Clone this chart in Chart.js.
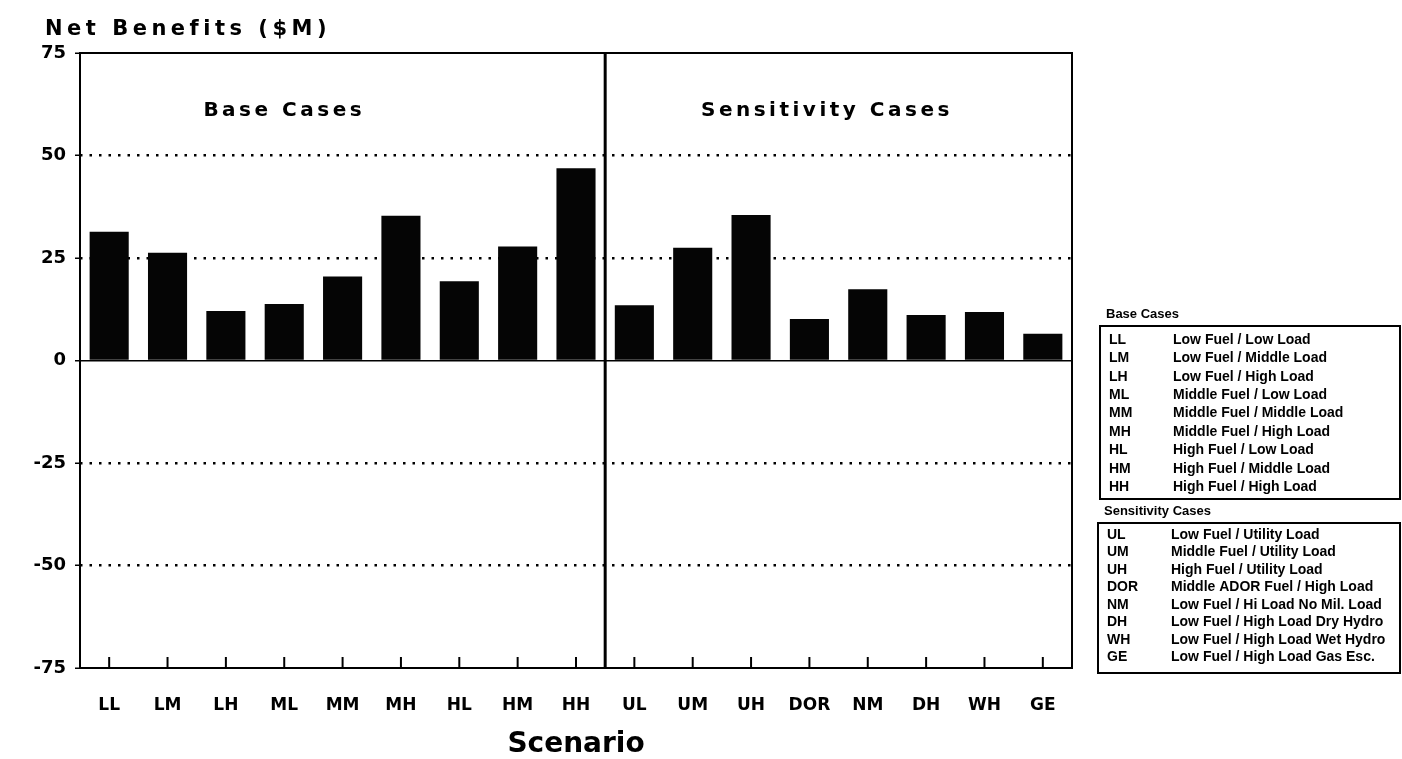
<!DOCTYPE html>
<html>
<head>
<meta charset="utf-8">
<script src="https://cdn.jsdelivr.net/npm/chart.js@4"></script>
<style>
  html, body { margin: 0; padding: 0; background: #fff; }
  #wrap { width: 1402px; height: 759px; }
</style>
</head>
<body>
<div id="wrap"><canvas id="benefitsChart" width="1402" height="759"></canvas></div>
<script>
// Net Benefits ($M) por cenário

const SCENARIOS = ['LL', 'LM', 'LH', 'ML', 'MM', 'MH', 'HL', 'HM', 'HH',
                   'UL', 'UM', 'UH', 'DOR', 'NM', 'DH', 'WH', 'GE'];
const NET_BENEFITS = [31.4, 26.3, 12.1, 13.8, 20.5, 35.3, 19.3, 27.8, 46.9,
                      13.5, 27.5, 35.5, 10.1, 17.4, 11.1, 11.8, 6.5];
const Y_TICKS = [75, 50, 25, 0, -25, -50, -75];

const BASE_CODES = SCENARIOS.slice(0, 9);
const BASE_DESCS = [
    'Low Fuel / Low Load', 'Low Fuel / Middle Load', 'Low Fuel / High Load',
    'Middle Fuel / Low Load', 'Middle Fuel / Middle Load', 'Middle Fuel / High Load',
    'High Fuel / Low Load', 'High Fuel / Middle Load', 'High Fuel / High Load'
];
const SENS_CODES = SCENARIOS.slice(9);
const SENS_DESCS = [
    'Low Fuel / Utility Load', 'Middle Fuel / Utility Load', 'High Fuel / Utility Load',
    'Middle ADOR Fuel / High Load', 'Low Fuel / Hi Load No Mil. Load',
    'Low Fuel / High Load Dry Hydro', 'Low Fuel / High Load Wet Hydro',
    'Low Fuel / High Load Gas Esc.'
];

function drawLegendBlock(ctx, heading, codes, descs, box) {
    ctx.font = 'bold 13px "Liberation Sans"';
    ctx.textAlign = 'left';
    ctx.textBaseline = 'middle';
    ctx.fillText(heading, box.left + 6, box.top - 12);

    ctx.lineWidth = 2;
    ctx.strokeRect(box.left, box.top, box.right - box.left, box.bottom - box.top);

    ctx.font = 'bold 14px "Liberation Sans"';
    codes.forEach((c, i) => {
        const yy = box.firstRow + i * box.step;
        ctx.fillText(c, box.left + 9, yy);
        ctx.fillText(descs[i], box.left + 73, yy);
    });
}

const overlayPlugin = {
    id: 'overlay',
    afterDatasetsDraw(chart) {
        const { ctx, chartArea: a, scales: { x, y } } = chart;
        ctx.save();
        ctx.strokeStyle = '#000';
        ctx.fillStyle = '#000';

        // marcas do eixo x (dentro da área)
        ctx.lineWidth = 2;
        SCENARIOS.forEach((s, i) => {
            const px = x.getPixelForValue(i);
            ctx.beginPath();
            ctx.moveTo(px, a.bottom);
            ctx.lineTo(px, a.bottom - 11);
            ctx.stroke();
        });

        // moldura
        ctx.lineWidth = 2;
        ctx.strokeRect(a.left, a.top, a.width, a.height);

        // divisão base / sensibilidade
        const divX = (x.getPixelForValue(BASE_CODES.length - 1) + x.getPixelForValue(BASE_CODES.length)) / 2;
        ctx.lineWidth = 3;
        ctx.beginPath();
        ctx.moveTo(divX, a.top);
        ctx.lineTo(divX, a.bottom);
        ctx.stroke();

        // títulos dos painéis
        ctx.font = 'bold 20px "DejaVu Sans"';
        ctx.letterSpacing = '3.5px';
        ctx.textAlign = 'center';
        ctx.textBaseline = 'middle';
        ctx.fillText('Base Cases', x.getPixelForValue(3), y.getPixelForValue(61));
        ctx.fillText('Sensitivity Cases', x.getPixelForValue(12.3), y.getPixelForValue(61));

        // título do gráfico
        ctx.font = 'bold 21px "DejaVu Sans"';
        ctx.letterSpacing = '4.5px';
        ctx.textAlign = 'left';
        ctx.fillText('Net Benefits ($M)', 45, 30);
        ctx.letterSpacing = '0px';

        // legenda
        drawLegendBlock(ctx, 'Base Cases', BASE_CODES, BASE_DESCS,
            { left: 1100, right: 1400, top: 326, bottom: 499, firstRow: 340, step: 18.4 });
        drawLegendBlock(ctx, 'Sensitivity Cases', SENS_CODES, SENS_DESCS,
            { left: 1098, right: 1400, top: 523, bottom: 673, firstRow: 535, step: 17.5 });

        ctx.restore();
    }
};

const ctx = document.getElementById('benefitsChart').getContext('2d');
window.benefitsChartInstance = new Chart(ctx, {
    type: 'bar',
    data: {
        labels: SCENARIOS,
        datasets: [{
            label: 'Net Benefits ($M)',
            data: NET_BENEFITS,
            backgroundColor: '#050505',
            borderWidth: 0,
            barPercentage: 0.67,
            categoryPercentage: 1
        }]
    },
    options: {
        responsive: false,
        devicePixelRatio: 1,
        animation: false,
        layout: { padding: { top: 53, right: 330, left: 0, bottom: 0 } },
        plugins: {
            legend: { display: false },
            tooltip: { enabled: false }
        },
        scales: {
            x: {
                grid: { display: false },
                border: { display: false },
                ticks: {
                    color: '#000',
                    padding: 19,
                    maxRotation: 0,
                    autoSkip: false,
                    font: { family: 'DejaVu Sans', size: 17, weight: 'bold' }
                },
                title: {
                    display: true,
                    text: 'Scenario',
                    color: '#000',
                    padding: { top: 0, bottom: -3 },
                    font: { family: 'DejaVu Sans', size: 28, weight: 'bold' }
                },
                afterFit: s => { s.height = 91; }
            },
            y: {
                min: -75,
                max: 75,
                afterBuildTicks: s => { s.ticks = Y_TICKS.map(v => ({ value: v })); },
                grid: {
                    color: c => (c.tick && Math.abs(c.tick.value) === 75) ? 'rgba(0,0,0,0)' : '#000',
                    lineWidth: c => (c.tick && c.tick.value === 0) ? 1.5 : 2.5,
                    tickColor: '#000',
                    tickLength: 5,
                    tickWidth: 1.5
                },
                border: {
                    display: false,
                    dash: c => (c.type === 'tick' && c.tick.value !== 0) ? [2.5, 7] : []
                },
                ticks: {
                    color: '#000',
                    padding: 9,
                    font: { family: 'DejaVu Sans', size: 18, weight: 'bold' }
                },
                afterFit: s => { s.width = 80; }
            }
        }
    },
    plugins: [overlayPlugin]
});
</script>
</body>
</html>
